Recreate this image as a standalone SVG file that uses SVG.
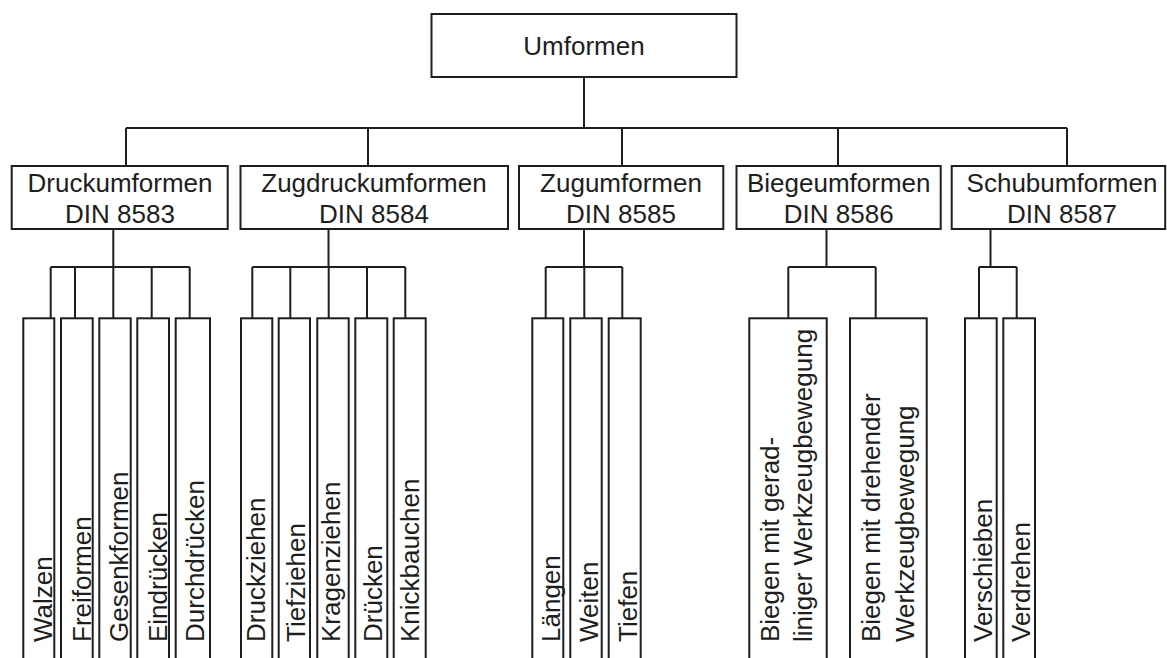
<svg xmlns="http://www.w3.org/2000/svg" width="1167" height="658" viewBox="0 0 1167 658">
<style>
.box{fill:#fff;stroke:#1e1e1e;stroke-width:2}
.con{fill:none;stroke:#1e1e1e;stroke-width:2}
.t{font-family:"Liberation Sans",Arial,sans-serif;font-size:26px;fill:#1e1e1e}
.c{text-anchor:middle}
</style>
<rect width="1167" height="658" fill="#fff"/>
<g id="connectors" class="con">
<path d="M584 77V128M126 128H1067M126 128V166M368 128V166M622 128V166M838 128V166M1067 128V166"/>
<path d="M113.3 229V267M50.7 267H189.7M50.7 267V318M75 267V318M113.3 267V318M151.7 267V318M189.7 267V318"/>
<path d="M328.5 229V267M252.3 267H405.3M252.3 267V318M290.3 267V318M328.7 267V318M367 267V318M405.3 267V318"/>
<path d="M584 229V267M545.7 267H622.3M545.7 267V318M584.3 267V318M622.3 267V318"/>
<path d="M826.5 229V267M788.3 267H875.7M788.3 267V318M875.7 267V318"/>
<path d="M990.5 229V267M979 267H1016.7M979 267V318M1016.7 267V318"/>
</g>
<g id="n-umformen"><rect class="box" x="431.5" y="14" width="305" height="63"/><text class="t c" x="584" y="55">Umformen</text></g>
<g id="n-druck"><rect class="box" x="11.7" y="166" width="216" height="63"/><text class="t c" x="120" y="192">Druckumformen</text><text class="t c" x="120" y="222.5">DIN 8583</text></g>
<g id="n-zugdruck"><rect class="box" x="240.5" y="166" width="267.5" height="63"/><text class="t c" x="374" y="192">Zugdruckumformen</text><text class="t c" x="374" y="222.5">DIN 8584</text></g>
<g id="n-zug"><rect class="box" x="519" y="166" width="204.3" height="63"/><text class="t c" x="621" y="192">Zugumformen</text><text class="t c" x="621" y="222.5">DIN 8585</text></g>
<g id="n-biege"><rect class="box" x="736.5" y="166" width="204.2" height="63"/><text class="t c" x="838.7" y="192">Biegeumformen</text><text class="t c" x="838.7" y="222.5">DIN 8586</text></g>
<g id="n-schub"><rect class="box" x="951.7" y="166" width="213.5" height="63"/><text class="t c" x="1062" y="192">Schubumformen</text><text class="t c" x="1062" y="222.5">DIN 8587</text></g>
<g id="n-walzen"><rect class="box" x="23.3" y="318.3" width="31" height="352"/><text class="t" transform="translate(52.3 642) rotate(-90)">Walzen</text></g>
<g id="n-freiformen"><rect class="box" x="61" y="318.3" width="31.7" height="352"/><text class="t" transform="translate(90.7 642) rotate(-90)">Freiformen</text></g>
<g id="n-gesenkformen"><rect class="box" x="99.3" y="318.3" width="31.4" height="352"/><text class="t" transform="translate(128.3 642) rotate(-90)">Gesenkformen</text></g>
<g id="n-eindruecken"><rect class="box" x="137.3" y="318.3" width="31.7" height="352"/><text class="t" transform="translate(166.7 642) rotate(-90)">Eindrücken</text></g>
<g id="n-durchdruecken"><rect class="box" x="175.7" y="318.3" width="34.3" height="352"/><text class="t" transform="translate(204 642) rotate(-90)">Durchdrücken</text></g>
<g id="n-druckziehen"><rect class="box" x="241" y="318.3" width="31.3" height="352"/><text class="t" transform="translate(265 642) rotate(-90)">Druckziehen</text></g>
<g id="n-tiefziehen"><rect class="box" x="278.7" y="318.3" width="31.3" height="352"/><text class="t" transform="translate(305 642) rotate(-90)">Tiefziehen</text></g>
<g id="n-kragenziehen"><rect class="box" x="317.3" y="318.3" width="31.4" height="352"/><text class="t" transform="translate(340 642) rotate(-90)">Kragenziehen</text></g>
<g id="n-druecken"><rect class="box" x="355.3" y="318.3" width="32" height="352"/><text class="t" transform="translate(381.5 642) rotate(-90)">Drücken</text></g>
<g id="n-knickbauchen"><rect class="box" x="393.7" y="318.3" width="32" height="352"/><text class="t" transform="translate(418.5 642) rotate(-90)">Knickbauchen</text></g>
<g id="n-laengen"><rect class="box" x="532.3" y="318.3" width="31" height="352"/><text class="t" transform="translate(560 642) rotate(-90)">Längen</text></g>
<g id="n-weiten"><rect class="box" x="570.3" y="318.3" width="31.4" height="352"/><text class="t" transform="translate(598.3 642) rotate(-90)">Weiten</text></g>
<g id="n-tiefen"><rect class="box" x="608.7" y="318.3" width="32" height="352"/><text class="t" transform="translate(636.7 642) rotate(-90)">Tiefen</text></g>
<g id="n-biegen-gerad"><rect class="box" x="749.3" y="318.3" width="77.4" height="352"/><text class="t" transform="translate(779 642) rotate(-90)">Biegen mit gerad-</text><text class="t" transform="translate(812 642) rotate(-90)">liniger Werkzeugbewegung</text></g>
<g id="n-biegen-dreh"><rect class="box" x="850" y="318.3" width="76.7" height="352"/><text class="t" transform="translate(880 642) rotate(-90)">Biegen mit drehender</text><text class="t" transform="translate(914 642) rotate(-90)">Werkzeugbewegung</text></g>
<g id="n-verschieben"><rect class="box" x="965" y="318.3" width="31.7" height="352"/><text class="t" transform="translate(991.7 642) rotate(-90)">Verschieben</text></g>
<g id="n-verdrehen"><rect class="box" x="1003.3" y="318.3" width="31.7" height="352"/><text class="t" transform="translate(1030 642) rotate(-90)">Verdrehen</text></g>
</svg>
